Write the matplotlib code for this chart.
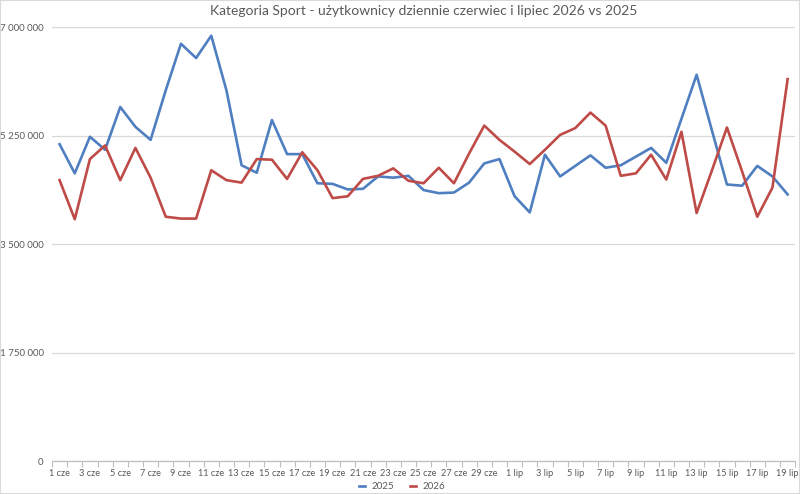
import matplotlib.pyplot as plt
from matplotlib.patches import Rectangle
from matplotlib.ticker import FuncFormatter

plt.rcParams['font.family'] = ['Lato', 'DejaVu Sans']

# categories: 1-30 June, 1-19 July
days = [f"{d} cze" for d in range(1, 31)] + [f"{d} lip" for d in range(1, 20)]

users_2025 = [5.11, 4.64, 5.23, 5.02, 5.71, 5.39, 5.18, 5.98, 6.73, 6.50,
              6.86, 5.98, 4.77, 4.65, 5.50, 4.95, 4.95, 4.48, 4.47, 4.38,
              4.39, 4.59, 4.57, 4.60, 4.37, 4.32, 4.33, 4.49, 4.80, 4.87,
              4.27, 4.01, 4.94, 4.59, 4.76, 4.93, 4.73, 4.77, 4.91, 5.05,
              4.81, 5.52, 6.23, 5.34, 4.46, 4.44, 4.76, 4.59, 4.30]
users_2026 = [4.53, 3.90, 4.87, 5.09, 4.53, 5.05, 4.57, 3.94, 3.91, 3.91,
              4.69, 4.53, 4.49, 4.87, 4.86, 4.55, 4.98, 4.69, 4.24, 4.27,
              4.55, 4.60, 4.72, 4.52, 4.48, 4.73, 4.48, 4.96, 5.41, 5.18,
              4.99, 4.79, 5.02, 5.26, 5.37, 5.62, 5.41, 4.60, 4.64, 4.94,
              4.54, 5.31, 4.00, 4.68, 5.38, 4.67, 3.94, 4.41, 6.16]
users_2025 = [v * 1e6 for v in users_2025]
users_2026 = [v * 1e6 for v in users_2026]

y_ticks = [0, 1750000, 3500000, 5250000, 7000000]

grey_text = '#595959'
x = list(range(len(days)))

fig = plt.figure(figsize=(8, 4.94), dpi=100)
ax = fig.add_axes([0.065, 0.0668, 0.929, 0.8785])

ax.plot(x, users_2025, color='#4F7FC0', linewidth=1.9, label='2025', solid_joinstyle='round')
ax.plot(x, users_2026, color='#BE4B48', linewidth=1.9, label='2026', solid_joinstyle='round')

ax.set_xlim(-0.5, len(days) - 0.5)
ax.set_ylim(0, 7000000)
ax.set_yticks(y_ticks)
ax.yaxis.set_major_formatter(FuncFormatter(lambda v, p: f"{int(v):,}".replace(',', ' ')))
ax.grid(axis='y', color='#D9D9D9', linewidth=0.9)
ax.set_axisbelow(True)

# label every second day, tick marks between categories
ax.set_xticks(x[::2])
ax.set_xticklabels(days[::2])
ax.set_xticks([i - 0.5 for i in range(len(days) + 1)], minor=True)
ax.tick_params(axis='x', which='major', length=0, pad=6, labelsize=6.6, labelcolor=grey_text)
ax.tick_params(axis='x', which='minor', length=4, color='#BFBFBF', width=0.8)
ax.tick_params(axis='y', length=0, pad=6, labelsize=7, labelcolor=grey_text)

for side in ['top', 'right', 'left']:
    ax.spines[side].set_visible(False)
ax.spines['bottom'].set_color('#BFBFBF')
ax.spines['bottom'].set_linewidth(0.9)

fig.suptitle("Kategoria Sport - użytkownicy dziennie czerwiec i lipiec 2026 vs 2025",
             x=0.529, y=0.99, fontsize=10, color=grey_text)

fig.legend(loc='lower center', bbox_to_anchor=(0.503, -0.012), ncol=2, frameon=False,
           fontsize=7, labelcolor=grey_text, handlelength=0.6, columnspacing=1.6,
           handletextpad=0.7)

fig.patches.append(Rectangle((0, 0), 1, 1, transform=fig.transFigure, fill=False,
                             edgecolor='#D9D9D9', linewidth=1.5))

fig.savefig('out.png', dpi=100)
